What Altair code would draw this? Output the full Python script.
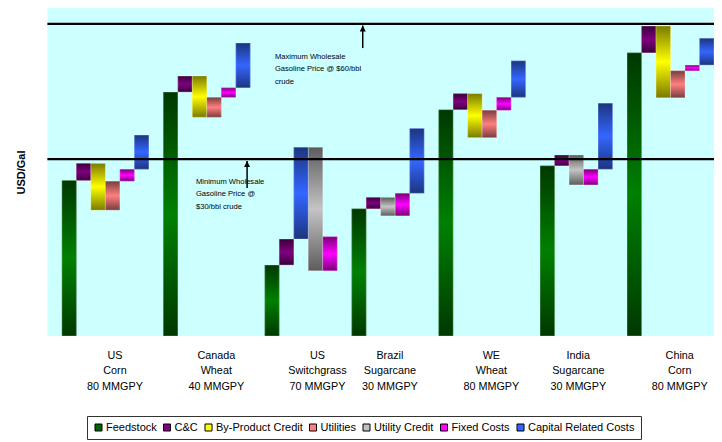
import altair as alt
import pandas as pd

# ---------------- data ----------------
categories = ["Feedstock", "C&C", "By-Product Credit", "Utilities",
              "Utility Credit", "Fixed Costs", "Capital Related Costs"]
legend_colors = ["#006400", "#800080", "#FFFF00", "#FF8080", "#C0C0C0", "#FF00FF", "#3366FF"]
edge_colors = ["#003800", "#3a003a", "#7a7a00", "#7a3c3c", "#5c5c5c", "#7a007a", "#1c3580"]
mid_colors = ["#008000", "#800080", "#FFFF00", "#FF8080", "#C4C4C4", "#FF00FF", "#3366FF"]

group_labels = [["US", "Corn", "80 MMGPY"],
                ["Canada", "Wheat", "40 MMGPY"],
                ["US", "Switchgrass", "70 MMGPY"],
                ["Brazil", "Sugarcane", "30 MMGPY"],
                ["WE", "Wheat", "80 MMGPY"],
                ["India", "Sugarcane", "30 MMGPY"],
                ["China", "Corn", "80 MMGPY"]]
group_first_slot = [1, 8, 15, 21, 27, 34, 40]
group_label_slot = [4.63, 11.62, 18.6, 23.6, 30.6, 36.6, 43.6]

us_corn_items = ["Feedstock", "C&C", "By-Product Credit", "Utilities", "Fixed Costs", "Capital Related Costs"]
us_corn_values = [0.796, 0.087, -0.239, 0.148, 0.061, 0.175]
canada_wheat_items = ["Feedstock", "C&C", "By-Product Credit", "Utilities", "Fixed Costs", "Capital Related Costs"]
canada_wheat_values = [1.248, 0.082, -0.211, 0.102, 0.049, 0.229]
us_switchgrass_items = ["Feedstock", "C&C", "Capital Related Costs", "Utility Credit", "Fixed Costs"]
us_switchgrass_values = [0.363, 0.133, 0.469, -0.631, 0.174]
brazil_sugarcane_items = ["Feedstock", "C&C", "Utility Credit", "Fixed Costs", "Capital Related Costs"]
brazil_sugarcane_values = [0.651, 0.058, -0.094, 0.115, 0.332]
we_wheat_items = ["Feedstock", "C&C", "By-Product Credit", "Utilities", "Fixed Costs", "Capital Related Costs"]
we_wheat_values = [1.158, 0.082, -0.225, 0.140, 0.066, 0.187]
india_sugarcane_items = ["Feedstock", "C&C", "Utility Credit", "Fixed Costs", "Capital Related Costs"]
india_sugarcane_values = [0.871, 0.055, -0.153, 0.080, 0.338]
china_corn_items = ["Feedstock", "C&C", "By-Product Credit", "Utilities", "Fixed Costs", "Capital Related Costs"]
china_corn_values = [1.449, 0.137, -0.367, 0.138, 0.029, 0.137]

price_lines = [0.905, 1.597]   # min ($30/bbl) and max ($60/bbl) wholesale gasoline

note_texts = ["Maximum Wholesale\nGasoline Price @ $60/bbl\ncrude",
              "Minimum Wholesale\nGasoline Price @\n$30/bbl crude"]
note_x = [15.7, 10.25]
note_y = [1.448, 0.808]
arrow_x = [21.76, 13.78]
arrow_tip = [1.588, 0.895]
arrow_tail = [1.473, 0.757]

x_domain = [0, 46.0]
y_domain = [0, 1.678]

# ---------------- build tables ----------------
group_items = [us_corn_items, canada_wheat_items, us_switchgrass_items, brazil_sugarcane_items,
               we_wheat_items, india_sugarcane_items, china_corn_items]
group_values = [us_corn_values, canada_wheat_values, us_switchgrass_values, brazil_sugarcane_values,
                we_wheat_values, india_sugarcane_values, china_corn_values]

rows = []
for g, (items, vals) in enumerate(zip(group_items, group_values)):
    run = 0.0
    for i, (c, v) in enumerate(zip(items, vals)):
        s = group_first_slot[g] + i
        rows.append({"cat": c, "x0": s, "x1": s + 1, "y0": run, "y1": run + v})
        run += v
bars = pd.DataFrame(rows)
lines_df = pd.DataFrame({"y": price_lines})
notes_df = pd.DataFrame({"x": note_x, "y": note_y, "text": note_texts})
arrows_df = pd.DataFrame({"x": arrow_x, "tip": arrow_tip, "tail": arrow_tail})

FONT = "Liberation Sans"
xs = alt.Scale(domain=x_domain, nice=False, zero=False)
ys = alt.Scale(domain=y_domain, nice=False, zero=False)


def js_arr(lines):
    return "[" + ",".join("'" + s + "'" for s in lines) + "]"


label_expr = js_arr(group_labels[-1])
for pos, lab in reversed(list(zip(group_label_slot[:-1], group_labels[:-1]))):
    label_expr = f"datum.value < {pos + 0.5} ? {js_arr(lab)} : ({label_expr})"

x_axis = alt.Axis(values=group_label_slot, labelExpr=label_expr, title=None, ticks=False,
                  domain=False, grid=False, labelFont=FONT, labelFontSize=10.8,
                  labelLineHeight=15.5, labelPadding=13, labelBaseline="top",
                  labelColor="black", labelOverlap=False, labelFlush=False, labelAlign="center")
y_axis = alt.Axis(title="USD/Gal", labels=False, ticks=False, domain=False, grid=False,
                  titleFont=FONT, titleFontSize=11, titleFontWeight="bold",
                  titlePadding=21, titleColor="black")

base = alt.Chart(bars).mark_bar(strokeWidth=0).encode(
    x=alt.X("x0:Q", scale=xs, axis=x_axis),
    x2="x1:Q",
    y=alt.Y("y0:Q", scale=ys, axis=y_axis),
    y2="y1:Q",
    color=alt.Color("cat:N", scale=alt.Scale(domain=categories, range=legend_colors),
                    legend=alt.Legend(orient="none", legendX=39.6, legendY=408,
                                      direction="horizontal", columns=7, title=None,
                                      symbolType="square", symbolSize=49,
                                      symbolStrokeColor="black", symbolStrokeWidth=1,
                                      symbolOpacity=1, labelFont=FONT, labelFontSize=11,
                                      labelColor="black", labelOffset=2, columnPadding=4.5,
                                      padding=6, strokeColor="#333333", fillColor="white")),
)

layers = [base]
for c, e, m in zip(categories, edge_colors, mid_colors):
    grad = alt.Gradient(gradient="linear",
                        stops=[alt.GradientStop(offset=0, color=e),
                               alt.GradientStop(offset=0.5, color=m),
                               alt.GradientStop(offset=1, color=e)],
                        x1=0, x2=0, y1=0, y2=1)
    layers.append(
        alt.Chart(bars).transform_filter(alt.datum.cat == c)
        .mark_bar(color=grad, stroke="white", strokeOpacity=0.35, strokeWidth=0.8)
        .encode(x=alt.X("x0:Q", scale=xs), x2="x1:Q", y=alt.Y("y0:Q", scale=ys), y2="y1:Q")
    )

rules = alt.Chart(lines_df).mark_rule(color="black", strokeWidth=2.2).encode(
    y=alt.Y("y:Q", scale=ys))
arrow_shaft = alt.Chart(arrows_df).mark_rule(color="black", strokeWidth=1.5).encode(
    x=alt.X("x:Q", scale=xs), y=alt.Y("tip:Q", scale=ys), y2="tail:Q")
arrow_head = alt.Chart(arrows_df).mark_point(
    shape="M0,0L-0.5,1L0.5,1Z", filled=True, color="black", opacity=1, size=144
).encode(x=alt.X("x:Q", scale=xs), y=alt.Y("tip:Q", scale=ys))
notes = alt.Chart(notes_df).mark_text(
    align="left", baseline="top", lineBreak="\n", font=FONT, fontSize=7.6,
    lineHeight=12.3, color="black"
).encode(x=alt.X("x:Q", scale=xs), y=alt.Y("y:Q", scale=ys), text="text:N")

chart = alt.layer(*layers, rules, arrow_shaft, arrow_head, notes).properties(
    width=666.6, height=328,
    padding={"left": 39.4, "top": 0, "right": 0, "bottom": 105},
    autosize=alt.AutoSizeParams(type="none"),
    background="white",
).configure_view(fill="#CCFFFF", stroke=None)

chart.save("out.html", embed_options={"renderer": "svg", "actions": False})
